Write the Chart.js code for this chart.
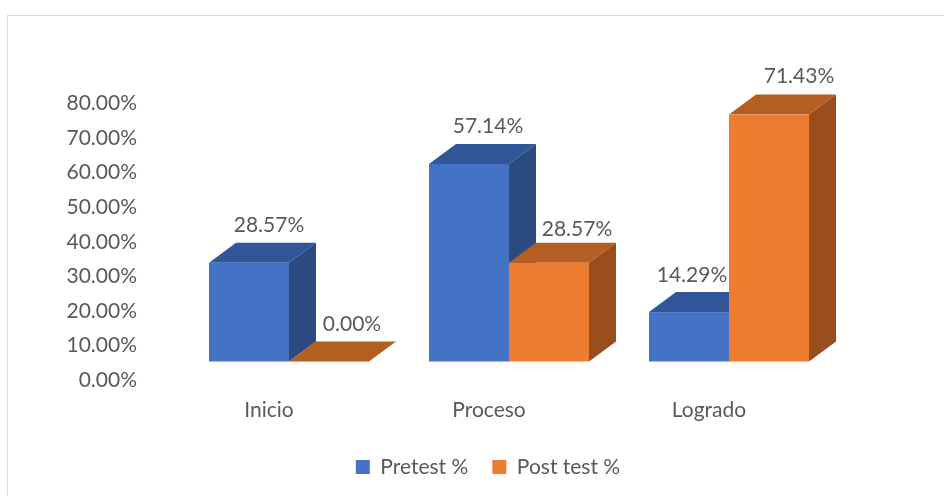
<!DOCTYPE html>
<html>
<head>
<meta charset="utf-8">
<script src="https://cdn.jsdelivr.net/npm/chart.js@4/dist/chart.umd.min.js"></script>
<style>
  html, body { margin: 0; padding: 0; background: #ffffff; overflow: hidden; }
  #wrap { position: relative; width: 944px; height: 496px; }
  #frame { position: absolute; left: 7px; top: 15px; width: 1000px; height: 600px; border: 1px solid #D9D9D9; box-sizing: border-box; }
  canvas { position: absolute; left: 0; top: 0; }
</style>
</head>
<body>
<div id="wrap">
  <div id="frame"></div>
  <canvas id="c" width="944" height="496"></canvas>
</div>
<script>
const categories = ['Inicio', 'Proceso', 'Logrado'];
const seriesNames = ['Pretest %', 'Post test %'];
const pretest = [28.57, 57.14, 14.29];
const posttest = [0.00, 28.57, 71.43];
const yTicks = [0, 10, 20, 30, 40, 50, 60, 70, 80];

const FONT = 'Lato';
const FS = 21;
const TEXT = '#595959';
const faces = [
  { front: '#4472C4', top: '#31569A', side: '#2A4A80' },
  { front: '#ED7D31', top: '#B45E22', side: '#9A4D1C' }
];
const DX = 27, DY = 20;
const LEGEND_SHIFT = 68.5;
// value-label nudges (style only), per series then per category
const labelNudgeX = [[20, 19, 3], [23, 28, 30]];
const labelNudgeY = [[38, 38, 37], [37, 34, 38]];

const bar3d = {
  id: 'bar3d',
  afterLayout(chart) {
    if (chart.legend) {
      chart.legend.left += LEGEND_SHIFT;
      chart.legend.right += LEGEND_SHIFT;
    }
  },
  afterDatasetsDraw(chart) {
    const ctx = chart.ctx;
    const items = [];
    chart.data.datasets.forEach((ds, di) => {
      const meta = chart.getDatasetMeta(di);
      meta.data.forEach((el, i) => items.push({ el, di, i, v: ds.data[i] }));
    });
    items.sort((a, b) => a.el.x - b.el.x);
    ctx.save();
    items.forEach(({ el, di }) => {
      const c = faces[di];
      const l = el.x - el.width / 2, r = el.x + el.width / 2;
      const t = el.y, b = el.base;
      ctx.fillStyle = c.side;
      ctx.beginPath();
      ctx.moveTo(r, b); ctx.lineTo(r + DX, b - DY); ctx.lineTo(r + DX, t - DY); ctx.lineTo(r, t);
      ctx.closePath(); ctx.fill();
      ctx.fillStyle = c.top;
      ctx.beginPath();
      ctx.moveTo(l, t); ctx.lineTo(l + DX, t - DY); ctx.lineTo(r + DX, t - DY); ctx.lineTo(r, t);
      ctx.closePath(); ctx.fill();
      ctx.fillStyle = c.front;
      ctx.fillRect(l, t, r - l, b - t);
    });
    ctx.fillStyle = TEXT;
    ctx.font = FS + 'px ' + FONT;
    ctx.textAlign = 'center';
    ctx.textBaseline = 'middle';
    items.forEach(({ el, di, i, v }) => {
      ctx.fillText(v.toFixed(2) + '%', el.x + labelNudgeX[di][i], el.y - labelNudgeY[di][i]);
    });
    ctx.restore();
  }
};

new Chart(document.getElementById('c'), {
  type: 'bar',
  data: {
    labels: categories,
    datasets: [
      { label: seriesNames[0], data: pretest, backgroundColor: 'rgba(0,0,0,0)', legendColor: faces[0].front },
      { label: seriesNames[1], data: posttest, backgroundColor: 'rgba(0,0,0,0)', legendColor: faces[1].front }
    ]
  },
  plugins: [bar3d],
  options: {
    responsive: false,
    animation: false,
    devicePixelRatio: 1,
    layout: { padding: { left: 0, right: 105, top: 85, bottom: 8.5 } },
    datasets: { bar: { categoryPercentage: 160 / 220, barPercentage: 1 } },
    scales: {
      x: {
        grid: { display: false, drawTicks: false },
        border: { display: false },
        ticks: { color: TEXT, font: { family: FONT, size: FS }, padding: 36, labelOffset: -20 },
        afterFit(s) { s.height = 71; }
      },
      y: {
        min: 0, max: 80,
        grid: { display: false, drawTicks: false },
        border: { display: false },
        afterBuildTicks(s) { s.ticks = yTicks.map(v => ({ value: v })); },
        ticks: {
          color: TEXT, font: { family: FONT, size: FS }, padding: 42, labelOffset: 18.5,
          callback: v => Number(v).toFixed(2) + '%'
        },
        afterFit(s) { s.width = 179; }
      }
    },
    plugins: {
      tooltip: { enabled: false },
      legend: {
        position: 'bottom',
        labels: {
          color: TEXT, font: { family: FONT, size: FS }, boxWidth: 14, boxHeight: 14, padding: 24,
          generateLabels(chart) {
            return chart.data.datasets.map((ds, i) => ({
              text: ds.label, fillStyle: ds.legendColor, strokeStyle: ds.legendColor,
              lineWidth: 0, hidden: false, datasetIndex: i, fontColor: TEXT
            }));
          }
        }
      }
    }
  }
});
</script>
</body>
</html>
